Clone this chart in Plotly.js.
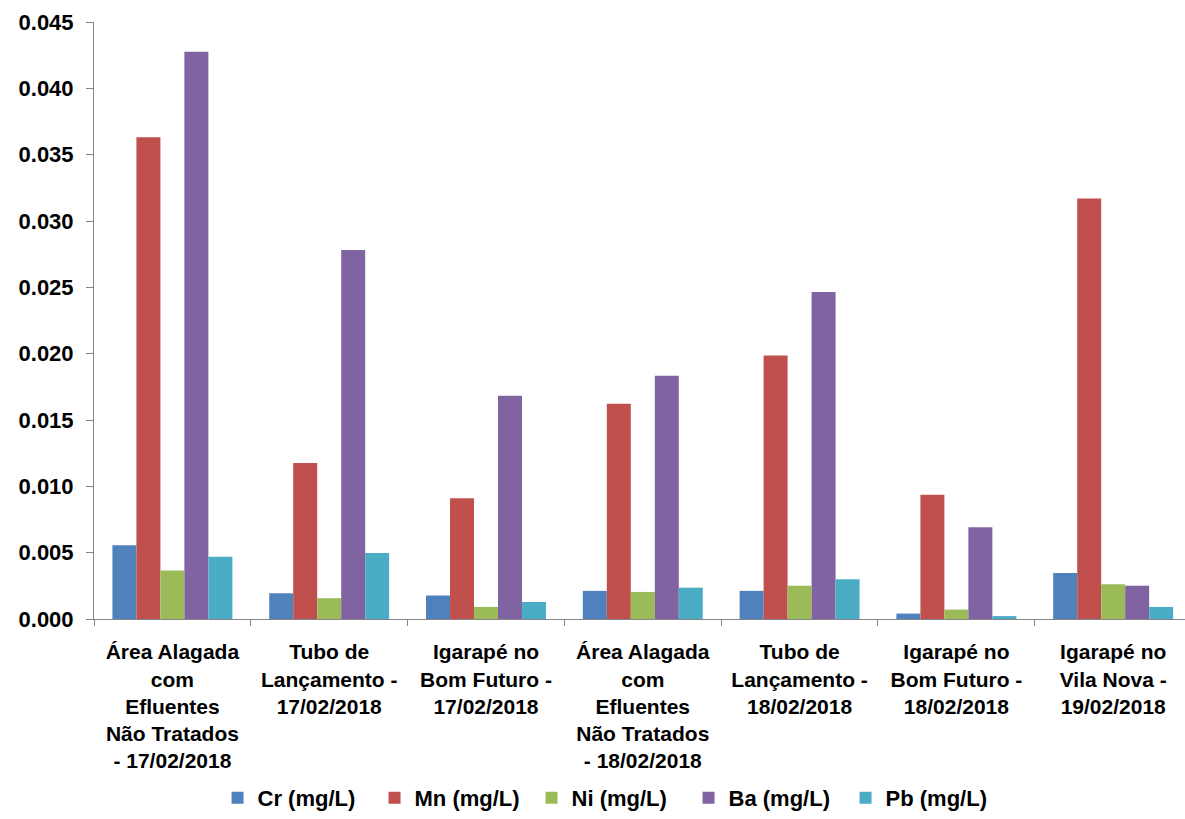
<!DOCTYPE html>
<html>
<head>
<meta charset="utf-8">
<script src="https://cdn.plot.ly/plotly-3.0.1.min.js"></script>
<style>html,body{margin:0;padding:0;background:#fff;}#chart{width:1185px;height:819px;}</style>
</head>
<body>
<div id="chart"></div>
<script>
const categories = [
  "Área Alagada<br>com<br>Efluentes<br>Não Tratados<br>- 17/02/2018",
  "Tubo de<br>Lançamento -<br>17/02/2018",
  "Igarapé no<br>Bom Futuro -<br>17/02/2018",
  "Área Alagada<br>com<br>Efluentes<br>Não Tratados<br>- 18/02/2018",
  "Tubo de<br>Lançamento -<br>18/02/2018",
  "Igarapé no<br>Bom Futuro -<br>18/02/2018",
  "Igarapé no<br>Vila Nova -<br>19/02/2018"
];
const seriesNames = ["Cr (mg/L)", "Mn (mg/L)", "Ni (mg/L)", "Ba (mg/L)", "Pb (mg/L)"];
const cr = [0.00555, 0.00194, 0.00177, 0.00212, 0.00212, 0.00041, 0.00346];
const mn = [0.03631, 0.01176, 0.00910, 0.01622, 0.01986, 0.00937, 0.03169];
const ni = [0.00366, 0.00157, 0.00091, 0.00204, 0.00251, 0.00071, 0.00262];
const ba = [0.04276, 0.02781, 0.01682, 0.01834, 0.02465, 0.00692, 0.00251];
const pb = [0.00470, 0.00498, 0.00128, 0.00236, 0.00299, 0.00022, 0.00091];
const yTicks = [0, 0.005, 0.010, 0.015, 0.020, 0.025, 0.030, 0.035, 0.040, 0.045];

const colors = ["#4F81BD", "#C0504D", "#9BBB59", "#8064A2", "#4BACC6"];
const allSeries = [cr, mn, ni, ba, pb];
const FONT = "Liberation Sans, Arial, sans-serif";

const traces = allSeries.map((vals, i) => ({
  type: "bar",
  name: seriesNames[i],
  x: categories,
  y: vals,
  marker: {color: colors[i], line: {width: 0}},
  hoverinfo: "y+name"
}));

const layout = {
  width: 1185,
  height: 819,
  margin: {l: 94, r: 0, t: 22, b: 195},
  paper_bgcolor: "#ffffff",
  plot_bgcolor: "#ffffff",
  font: {family: FONT, size: 20, color: "#000000", weight: "bold"},
  barmode: "group",
  bargap: 0.235,
  bargroupgap: 0,
  showlegend: true,
  legend: {
    orientation: "h",
    x: 0.473, xanchor: "center",
    y: -0.30, yanchor: "middle",
    font: {family: FONT, size: 22, color: "#000000", weight: "bold"},
    traceorder: "normal",
    itemwidth: 30,
    entrywidth: 112,
    entrywidthmode: "pixels"
  },
  xaxis: {
    type: "category",
    range: [-0.5, 6.458],
    showline: true,
    linecolor: "#868686",
    linewidth: 1,
    ticks: "outside",
    tickson: "boundaries",
    ticklen: 6,
    tickcolor: "#868686",
    tickangle: 0,
    ticklabelstandoff: 14,
    showgrid: false,
    zeroline: false,
    tickfont: {family: FONT, size: 21, color: "#000000", weight: "bold"}
  },
  yaxis: {
    range: [0, 0.045],
    tickvals: yTicks,
    ticktext: yTicks.map(v => v.toFixed(3)),
    showline: true,
    linecolor: "#868686",
    linewidth: 1,
    ticks: "outside",
    ticklen: 7,
    tickcolor: "#868686",
    ticklabelstandoff: 8,
    showgrid: false,
    zeroline: false,
    tickfont: {family: FONT, size: 22, color: "#000000", weight: "bold"}
  }
};

Plotly.newPlot("chart", traces, layout, {displayModeBar: false, staticPlot: true});
</script>
</body>
</html>
